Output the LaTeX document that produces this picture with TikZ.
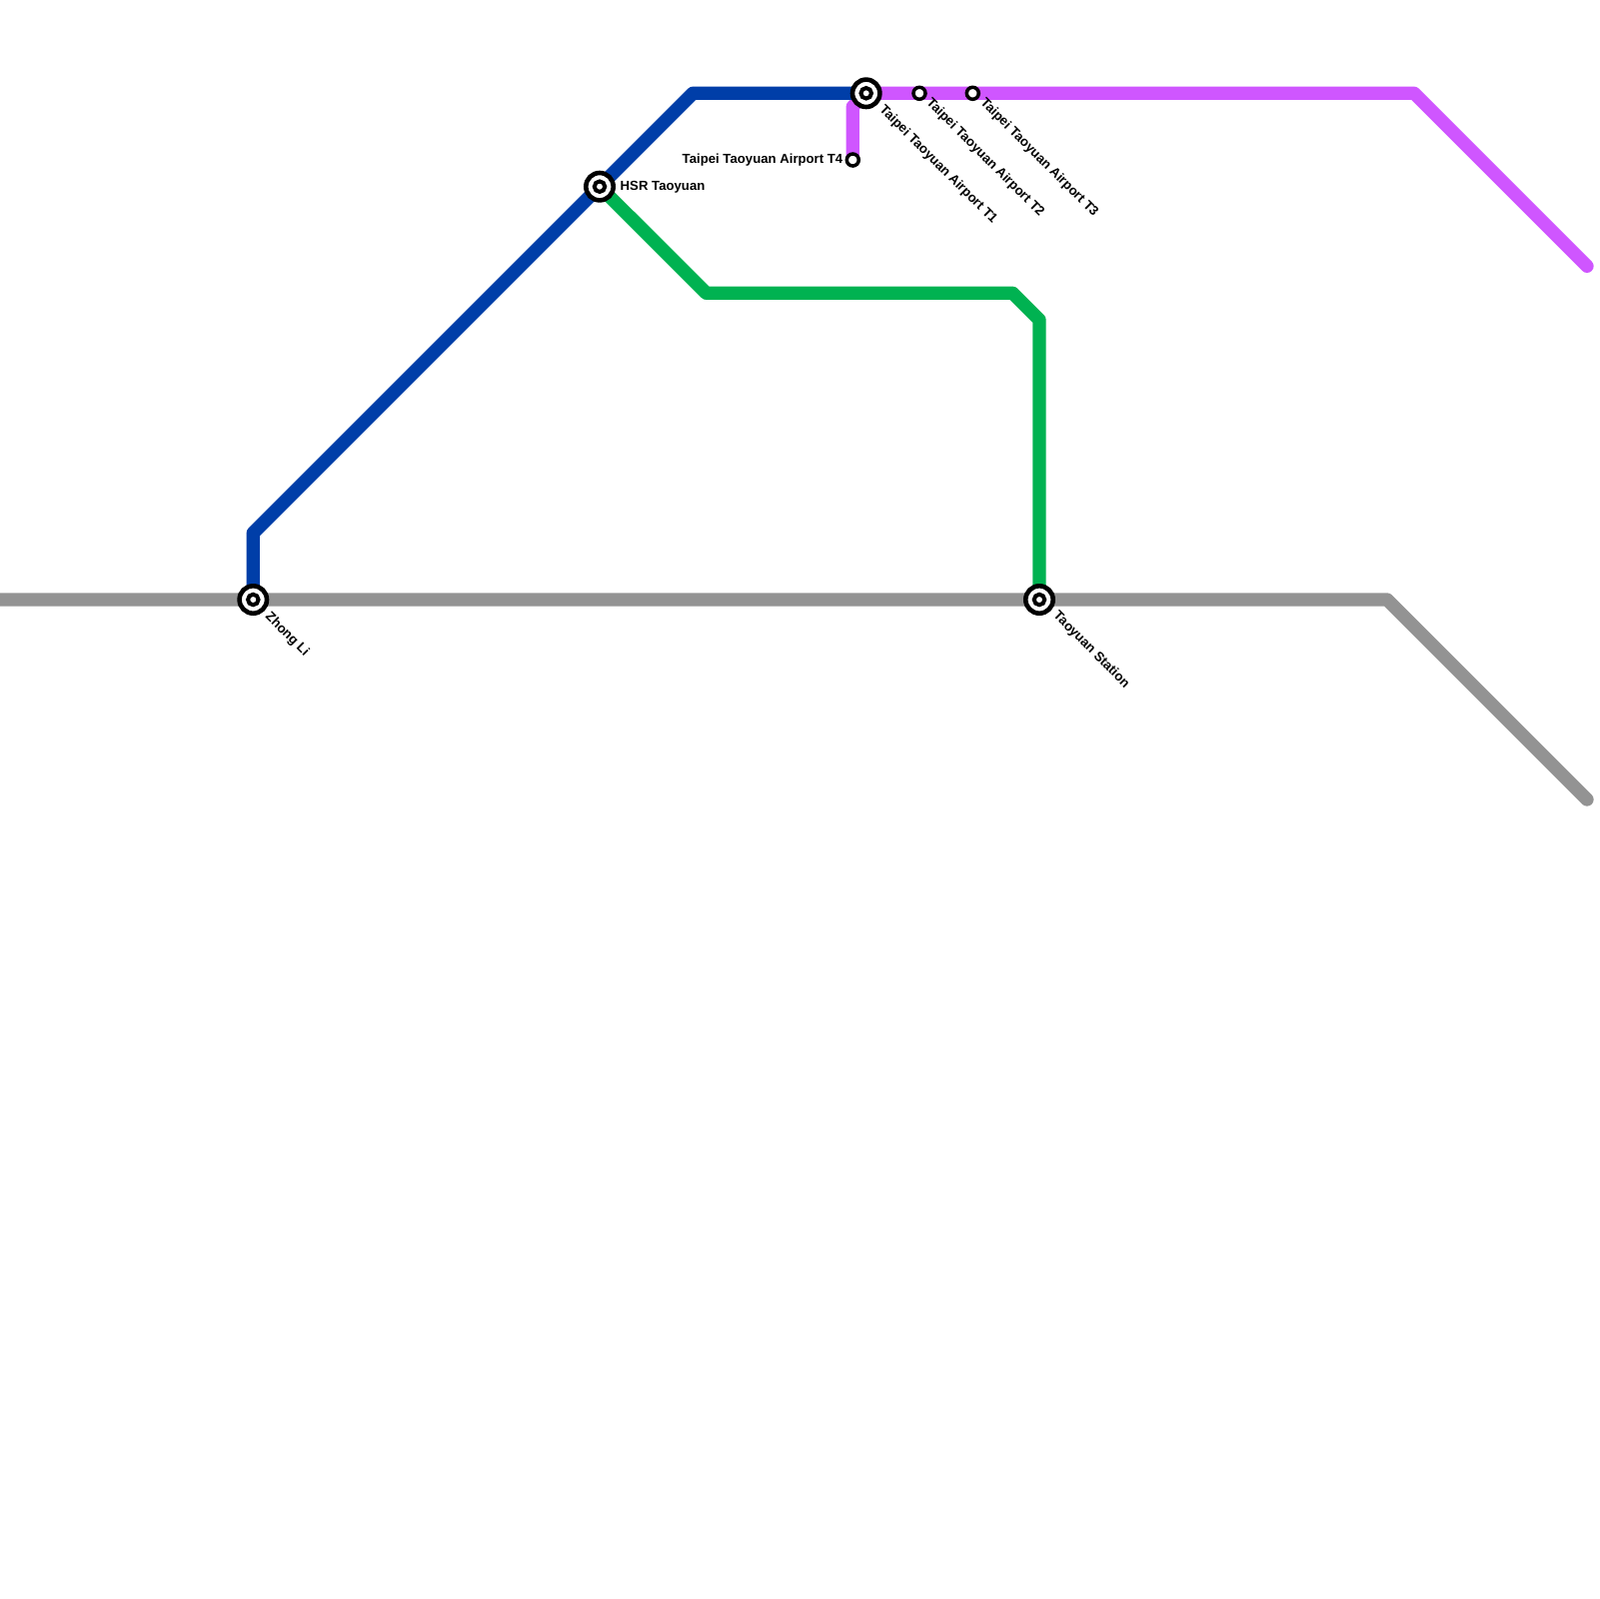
\documentclass[tikz,border=0pt]{standalone}
\usepackage{fontspec}
\setmainfont{Liberation Sans}
\definecolor{lineblue}{HTML}{003EA8}
\definecolor{linepurple}{HTML}{CF56FF}
\definecolor{linegreen}{HTML}{00B251}
\definecolor{linegray}{HTML}{939393}
\begin{document}
\begin{tikzpicture}[
    x=0.1mm, y=-0.1mm,
    font=\fontsize{3.75pt}{4.5pt}\selectfont\bfseries,
    route/.style={line width=1.333mm, line join=round, line cap=round},
    hub/.style={draw=black, circle, fill=white, line width=0.46mm, minimum size=2.74mm, inner sep=0pt, outer sep=0pt},
    hubcore/.style={draw=black, circle, fill=white, line width=0.4mm, minimum size=1.05mm, inner sep=0pt, outer sep=0pt},
    stop/.style={draw=black, circle, fill=white, line width=0.35mm, minimum size=1.2mm, inner sep=0pt, outer sep=0pt},
    stname/.style={anchor=west, inner sep=0pt, rotate=-45},
    flatname/.style={inner sep=0pt}
]
\useasboundingbox (0, 0) rectangle (1600, 1600);

% Bends and line ends
\coordinate (w) at (0, 600);
\coordinate (g1) at (1388, 600);
\coordinate (g2) at (1588, 800);
\coordinate (b1) at (253.3, 533.3);
\coordinate (b2) at (693.3, 93.3);
\coordinate (p1) at (1415, 93.3);
\coordinate (p2) at (1588, 266.3);
\coordinate (p3) at (853.3, 106.7);
\coordinate (e1) at (706.7, 293.3);
\coordinate (e2) at (1013.3, 293.3);
\coordinate (e3) at (1040, 320);

% Stations
\coordinate (zl) at (253.3, 600);
\coordinate (hsr) at (600, 186.7);
\coordinate (t1) at (866.7, 93.3);
\coordinate (t2) at (920, 93.3);
\coordinate (t3) at (973.3, 93.3);
\coordinate (t4) at (853.3, 160);
\coordinate (ty) at (1040, 600);

% Lines
\draw[route, linegray] (w) -- (g1) -- (g2);
\draw[route, linepurple] (t4) -- (p3) -- (t1) -- (p1) -- (p2);
\draw[route, linegreen] (hsr) -- (e1) -- (e2) -- (e3) -- (ty);
\draw[route, lineblue] (zl) -- (b1) -- (b2) -- (t1);

% Markers
\foreach \st in {zl, hsr, t1, ty} {
    \node[hub] (\st hub) at (\st) {};
    \node[hubcore] (\st core) at (\st) {};
}
\foreach \st in {t2, t3, t4} {
    \node[stop] (\st stop) at (\st) {};
}

% Labels
\node[stname] (zlname) at (267, 615) {Zhong Li};
\node[flatname, anchor=west] (hsrname) at (620, 187) {HSR Taoyuan};
\node[stname] (t1name) at (881.5, 107.5) {Taipei Taoyuan Airport T1};
\node[stname] (t2name) at (928.5, 100.5) {Taipei Taoyuan Airport T2};
\node[stname] (t3name) at (982.5, 100.5) {Taipei Taoyuan Airport T3};
\node[flatname, anchor=east] (t4name) at (844, 160) {Taipei Taoyuan Airport T4};
\node[stname] (tyname) at (1055.5, 614) {Taoyuan Station};

\end{tikzpicture}
\end{document}
